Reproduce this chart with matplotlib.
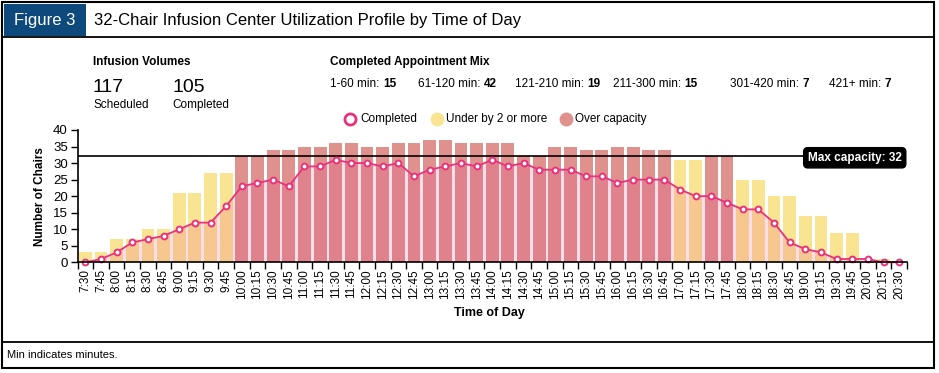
import matplotlib
matplotlib.use("Agg")
import matplotlib.pyplot as plt
from matplotlib.patches import Rectangle
from matplotlib.lines import Line2D
from matplotlib.text import Annotation

plt.rcParams['font.family'] = ['Liberation Sans', 'DejaVu Sans']

# ---------------- data ----------------
time_labels = ["7:30", "7:45", "8:00", "8:15", "8:30", "8:45", "9:00", "9:15", "9:30", "9:45",
               "10:00", "10:15", "10:30", "10:45", "11:00", "11:15", "11:30", "11:45", "12:00", "12:15",
               "12:30", "12:45", "13:00", "13:15", "13:30", "13:45", "14:00", "14:15", "14:30", "14:45",
               "15:00", "15:15", "15:30", "15:45", "16:00", "16:15", "16:30", "16:45", "17:00", "17:15",
               "17:30", "17:45", "18:00", "18:15", "18:30", "18:45", "19:00", "19:15", "19:30", "19:45",
               "20:00", "20:15", "20:30"]
scheduled = [3, 3, 7, 7, 10, 10, 21, 21, 27, 27,
             32, 32, 34, 34, 35, 35, 36, 36, 35, 35,
             36, 36, 37, 37, 36, 36, 36, 36, 32, 32,
             35, 35, 34, 34, 35, 35, 34, 34, 31, 31,
             32, 32, 25, 25, 20, 20, 14, 14, 9, 9,
             0, 1, 0]
completed = [0, 1, 3, 6, 7, 8, 10, 12, 12, 17,
             23, 24, 25, 23, 29, 29, 31, 30, 30, 29,
             30, 26, 28, 29, 30, 29, 31, 29, 30, 28,
             28, 28, 26, 26, 24, 25, 25, 25, 22, 20,
             20, 18, 16, 16, 12, 6, 4, 3, 1, 1,
             1, 0, 0]
capacity = 32
volume_labels = ["Scheduled", "Completed"]
volume_values = [117, 105]
mix_labels = ["1-60 min:", "61-120 min:", "121-210 min:", "211-300 min:", "301-420 min:", "421+ min:"]
mix_values = [15, 42, 19, 15, 7, 7]
yticks = [0, 5, 10, 15, 20, 25, 30, 35, 40]

# ---------------- style ----------------
W, H = 939, 373
YELLOW = "#F9E491"
RED = "#DE918D"
PINK = "#E8327C"
BLUE = "#0D4A7B"

fig = plt.figure(figsize=(W / 100, H / 100), dpi=100)

def fx(px):
    return px / W

def fy(py):
    return 1 - py / H

# frame
fig.patches.append(Rectangle((fx(2), fy(368)), fx(932), 366 / H, transform=fig.transFigure,
                             fill=False, edgecolor="black", linewidth=1.5))
fig.add_artist(Line2D([fx(2), fx(934)], [fy(37), fy(37)], transform=fig.transFigure, color="black", lw=1.3))
fig.add_artist(Line2D([fx(2), fx(934)], [fy(342), fy(342)], transform=fig.transFigure, color="black", lw=1.3))
fig.patches.append(Rectangle((fx(4), fy(36)), fx(82), 32 / H, transform=fig.transFigure,
                             facecolor=BLUE, edgecolor="none"))
fig.text(fx(45), fy(20), "Figure 3", color="white", fontsize=12, ha="center", va="center")
fig.text(fx(94), fy(20), "32-Chair Infusion Center Utilization Profile by Time of Day",
         color="black", fontsize=12, ha="left", va="center")
fig.text(fx(7), fy(355), "Min indicates minutes.", fontsize=8, ha="left", va="center")

# header info
fig.text(fx(93), fy(62), "Infusion Volumes", fontsize=8.5, fontweight="bold", ha="left", va="center")
vol_x = [93, 172]
for xp, lab, val in zip(vol_x, volume_labels, volume_values):
    fig.text(fx(xp), fy(88), str(val), fontsize=14, ha="left", va="center")
    fig.text(fx(xp), fy(105), lab, fontsize=8.5, ha="left", va="center")

fig.text(fx(330), fy(62), "Completed Appointment Mix", fontsize=8.5, fontweight="bold", ha="left", va="center")
mix_x = [330, 418, 515, 613, 730, 829]
for xp, lab, val in zip(mix_x, mix_labels, mix_values):
    t = fig.text(fx(xp), fy(84), lab, fontsize=8.5, ha="left", va="center")
    ann = Annotation(str(val), xy=(1, 0.5), xycoords=t, xytext=(2.5, 0), textcoords="offset points",
                     fontsize=8.5, fontweight="bold", ha="left", va="center", annotation_clip=False)
    fig.add_artist(ann)

# legend
ly = fy(119)
fig.add_artist(Line2D([fx(350)], [ly], transform=fig.transFigure, marker="o", markersize=8,
                      markerfacecolor="white", markeredgecolor=PINK, markeredgewidth=2, linestyle="none"))
fig.text(fx(360), ly, "Completed", fontsize=8.5, ha="left", va="center")
fig.add_artist(Line2D([fx(437)], [ly], transform=fig.transFigure, marker="o", markersize=10,
                      markerfacecolor=YELLOW, markeredgecolor="none", linestyle="none"))
fig.text(fx(446), ly, "Under by 2 or more", fontsize=8.5, ha="left", va="center")
fig.add_artist(Line2D([fx(566)], [ly], transform=fig.transFigure, marker="o", markersize=10,
                      markerfacecolor=RED, markeredgecolor="none", linestyle="none"))
fig.text(fx(575), ly, "Over capacity", fontsize=8.5, ha="left", va="center")

# axes
ax = fig.add_axes([fx(77.5), fy(262.3), fx(907) - fx(77.5), (262.3 - 130) / H])
x = list(range(len(time_labels)))
colors = [RED if v >= capacity else YELLOW for v in scheduled]
ax.bar(x, scheduled, width=0.82, color=colors, zorder=2)
ax.fill_between(x, completed, 0, color="#EB3C82", alpha=0.17, linewidth=0, zorder=3)
ax.plot(x, completed, color=PINK, lw=1.3, marker="o", markersize=4.2, markerfacecolor="white",
        markeredgecolor=PINK, markeredgewidth=1.4, zorder=5, clip_on=False)
ax.axhline(capacity, xmin=0, xmax=0.9, color="black", lw=1.2, zorder=4)

ax.set_xlim(-0.5, len(x) - 0.5)
ax.set_ylim(0, 40)
ax.set_yticks(yticks)
ax.tick_params(axis="y", labelsize=9.5, length=5, width=1, pad=2)
ax.set_xticks(x)
ax.set_xticklabels(time_labels, rotation=90, fontsize=8.5)
ax.set_xticks([i - 0.5 for i in range(len(x) + 1)], minor=True)
ax.tick_params(axis="x", which="major", length=0, pad=5)
ax.tick_params(axis="x", which="minor", length=5, width=1)
for s in ["top", "right"]:
    ax.spines[s].set_visible(False)
for s in ["left", "bottom"]:
    ax.spines[s].set_linewidth(1.2)
ax.spines["bottom"].set_zorder(6)
ax.text(-0.045, 0.5, "Number of Chairs", transform=ax.transAxes, rotation=90, fontsize=8.5,
        fontweight="bold", ha="center", va="center")
ax.text(0.497, -0.385, "Time of Day", transform=ax.transAxes, fontsize=9, fontweight="bold",
        ha="center", va="center")

# max capacity label
ax.text(0.937, 0.79, "Max capacity: 32", transform=ax.transAxes,
        fontsize=8.5, fontweight="bold", color="white", ha="center", va="center", zorder=7,
        bbox=dict(boxstyle="round,pad=0.35,rounding_size=0.35", facecolor="black", edgecolor="black"),
        clip_on=False)

fig.savefig("out.png", dpi=100)
